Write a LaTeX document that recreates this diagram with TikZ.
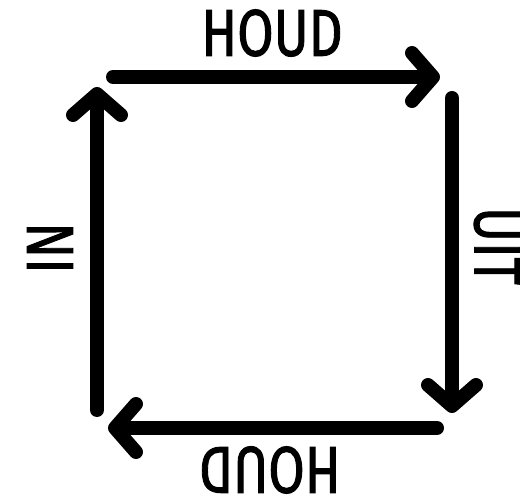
\documentclass[tikz,border=0pt]{standalone}
\usepackage{fontspec}
\setmainfont{Fira Sans}
\newfontfamily\handfont[FakeBold=1.6]{Fira Sans}
\usetikzlibrary{arrows.meta}
\begin{document}
\begin{tikzpicture}[x=1pt,y=-1pt,
  flow/.style={line width=14pt,line cap=round,
    -{Straight Barb[length=21pt,width=48pt,round]}},
  lbl/.style={inner sep=0pt,font=\handfont\fontsize{66}{66}\selectfont}]
\useasboundingbox (0,0) rectangle (520,502);
\coordinate (ts) at (113,77);  \coordinate (te) at (440,77);
\coordinate (rs) at (452,98);  \coordinate (re) at (452,413);
\coordinate (bs) at (437,428); \coordinate (be) at (108,428);
\coordinate (ls) at (97,410);  \coordinate (le) at (97,87);
\draw[flow] (ts) -- (te);
\draw[flow] (rs) -- (re);
\draw[flow] (bs) -- (be);
\draw[flow] (ls) -- (le);
\node[lbl] (top) at (272,33) {\scalebox{0.8}[1]{HOUD}};
\node[lbl,rotate=180] (bot) at (270,470) {\scalebox{0.8}[1]{HOUD}};
\node[lbl,rotate=90] (in) at (50,248) {\scalebox{0.8}[1]{IN}};
\node[lbl,rotate=-90] (uit) at (497,246) {\scalebox{0.8}[1]{UIT}};
\end{tikzpicture}
\end{document}
